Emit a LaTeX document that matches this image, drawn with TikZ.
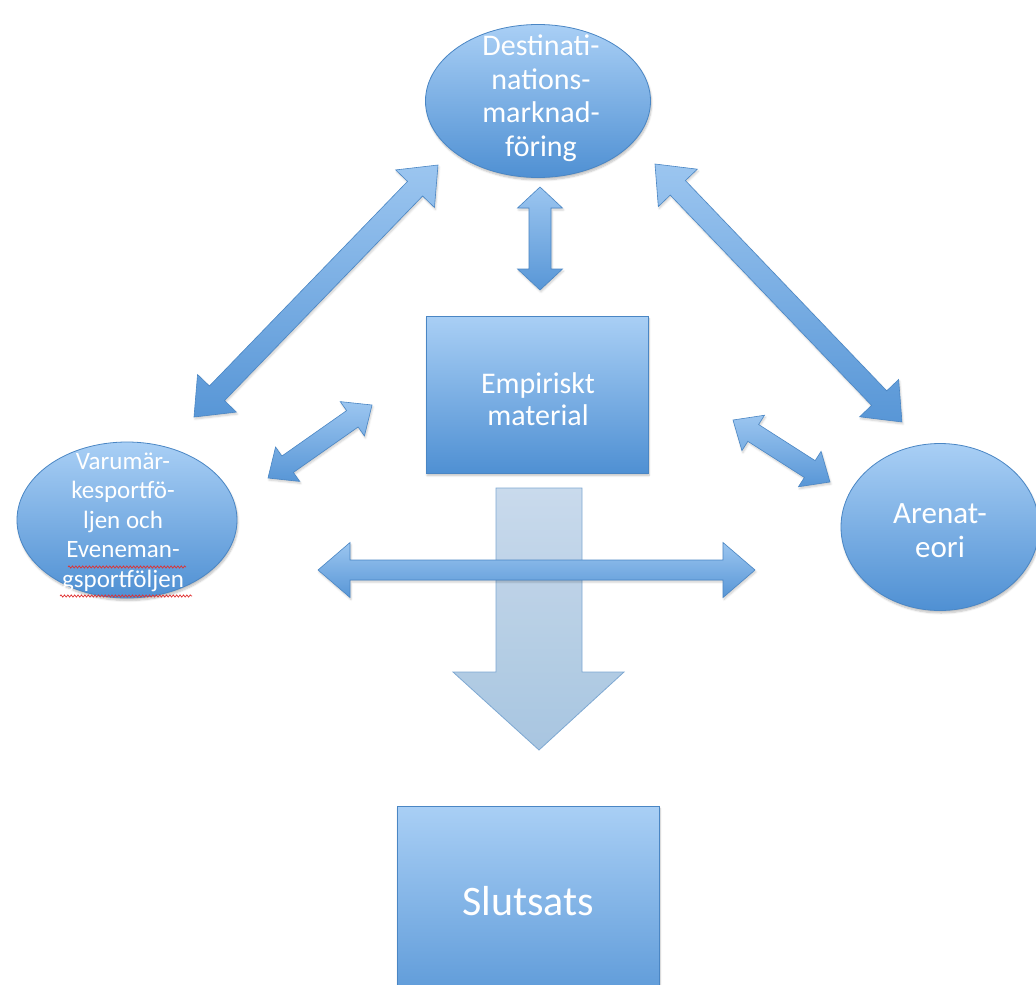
\documentclass[tikz,border=0pt]{standalone}
\usepackage{fontspec}
\setmainfont{Carlito}
\usetikzlibrary{shapes.geometric,calc,shadows.blur,decorations.pathmorphing}
\definecolor{bluetop}{HTML}{A9CFF5}
\definecolor{bluebot}{HTML}{4F90D3}
\definecolor{blueline}{HTML}{4A86C4}
\definecolor{greytop}{HTML}{C6D8EB}
\definecolor{greybot}{HTML}{A3C2DE}
\definecolor{greyline}{HTML}{7EA8D2}
\definecolor{squiggle}{HTML}{E03030}
\tikzset{
  blueshape/.style={draw=blueline, line width=0.8pt, top color=bluetop, bottom color=bluebot,
    blur shadow={shadow xshift=1pt, shadow yshift=-2.5pt, shadow blur steps=6, shadow opacity=25}},
  ellnode/.style={blueshape, ellipse, inner sep=0pt, text=white, align=center},
  boxnode/.style={blueshape, rectangle, inner sep=0pt, text=white, align=center},
  arrowshape/.style={draw=blueline, line width=0.6pt, top color=bluetop!85!bluebot, bottom color=bluebot!90!bluetop,
    blur shadow={shadow xshift=1pt, shadow yshift=-2pt, shadow blur steps=5, shadow opacity=20}},
  downarrowshape/.style={draw=greyline, line width=0.8pt, top color=greytop, bottom color=greybot, fill opacity=0.95},
  spell/.style={draw=squiggle, line width=0.7pt, decorate, decoration={snake, amplitude=1.1pt, segment length=3.4pt}}
}
% double block arrow between two named coordinates:
% #2 start, #3 end, #4 shaft half width, #5 head half width, #6 head length
\newcommand{\blockdbl}[6][arrowshape]{%
  \path[#1] let \p1=(#2), \p2=(#3), \n1={atan2(\y2-\y1,\x2-\x1)}, \n2={veclen(\x2-\x1,\y2-\y1)} in
    [shift={(\x1,\y1)}, rotate=\n1]
    (0pt,0pt) -- (#6,#5) -- (#6,#4) -- (\n2-#6,#4) -- (\n2-#6,#5) -- (\n2,0pt)
    -- (\n2-#6,-#5) -- (\n2-#6,-#4) -- (#6,-#4) -- (#6,-#5) -- cycle;}
\begin{document}
\begin{tikzpicture}[x=1pt,y=-1pt]
\useasboundingbox (0,0) rectangle (1036,985);
\clip (0,0) rectangle (1036,985);

% nodes
\node[ellnode, minimum width=225pt, minimum height=153pt] (dest) at (538,101) {};
\node[text=white, align=center, font=\fontsize{30}{33.5}\selectfont] (desttext) at (541,98) {Destinati-\\nations-\\marknad-\\föring};
\node[ellnode, minimum width=220pt, minimum height=156pt] (varu) at (127,520) {};
\node[text=white, align=center, font=\fontsize{25}{29.5}\selectfont] (varutext) at (123,522) {Varumär-\\kesportfö-\\ljen och\\Eveneman-\\gsportföljen};
\node[ellnode, minimum width=198pt, minimum height=167pt] (arena) at (940,527) {};
\node[text=white, align=center, font=\fontsize{31}{34}\selectfont] (arenatext) at (940,531) {Arenat-\\eori};
\node[boxnode, minimum width=222pt, minimum height=157pt] (emp) at (537,394.5) {};
\node[text=white, align=center, font=\fontsize{30}{32}\selectfont] (emptext) at (538,399) {Empiriskt\\material};
\node[boxnode, minimum width=262pt, minimum height=230pt] (slut) at (528,921) {};
\node[text=white, font=\fontsize{42}{46}\selectfont] (sluttext) at (528,901) {Slutsats};

% spelling squiggles under the last two lines of varu
\coordinate (sq1a) at (68,567);
\coordinate (sq1b) at (186,567);
\coordinate (sq2a) at (60,596);
\coordinate (sq2b) at (192,596);
\draw[spell] (sq1a) -- (sq1b);
\draw[spell] (sq2a) -- (sq2b);

% big down arrow (from empirical material toward conclusion)
\coordinate (dtop) at (539,488);
\coordinate (dtip) at (539,750);
\path[downarrowshape] (dtop) ++(-43,0) -- ++(86,0) -- ++(0,184) -- ++(42,0) -- (dtip) -- ++(-86,-78) -- ++(43,0) -- cycle;

% connector coordinates
\coordinate (v1) at (540,187);
\coordinate (v2) at (540,290);
\coordinate (l1) at (438,165);
\coordinate (l2) at (194,417);
\coordinate (r1) at (655,164);
\coordinate (r2) at (902,422);
\coordinate (sl1) at (372,405);
\coordinate (sl2) at (268,478);
\coordinate (sr1) at (733,420);
\coordinate (sr2) at (830,482);
\coordinate (h1) at (318,570);
\coordinate (h2) at (755,570);

\blockdbl{v1}{v2}{11pt}{22.5pt}{21pt}
\blockdbl{l1}{l2}{10.5pt}{27pt}{33pt}
\blockdbl{r1}{r2}{10.5pt}{27pt}{33pt}
\blockdbl{sl1}{sl2}{10pt}{21pt}{24pt}
\blockdbl{sr1}{sr2}{10pt}{21pt}{24pt}
\blockdbl{h1}{h2}{10pt}{27.5pt}{32pt}
\end{tikzpicture}
\end{document}
